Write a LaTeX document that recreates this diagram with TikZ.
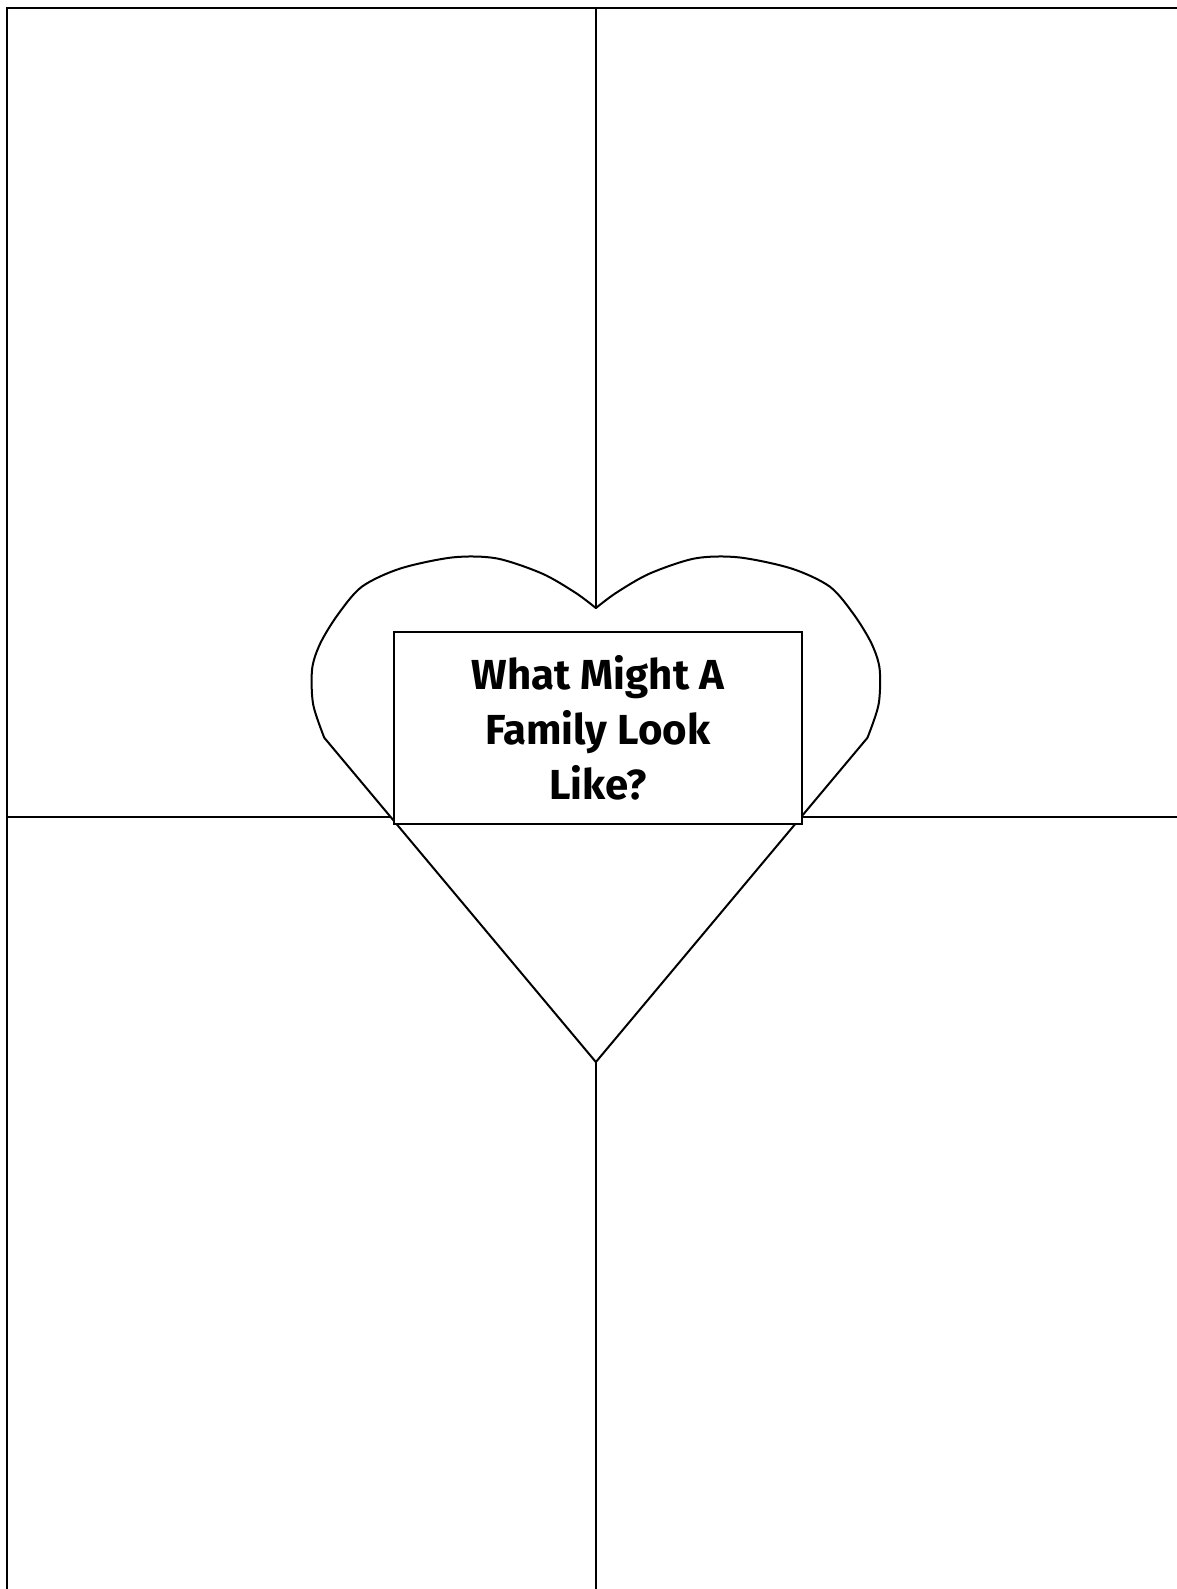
\documentclass[tikz,border=0pt]{standalone}
\usepackage{fontspec}
\setmainfont{Fira Sans}
\begin{document}
\begin{tikzpicture}[x=1.0138pt,y=-1.0138pt,
  gridline/.style={line width=2pt,black},
  heartline/.style={line width=2pt,black,fill=white,line join=round},
  titlebox/.style={draw,line width=2pt,fill=white,minimum width=407.5pt,minimum height=191.6pt,
    inner sep=0pt,align=center,font=\fontsize{42}{55}\selectfont\bfseries}]
\useasboundingbox (0,0) rectangle (1161,1568);
% grid
\coordinate (tl) at (7,8);
\coordinate (tr) at (1161,8);
\coordinate (bl) at (7,1568);
\coordinate (mt) at (588,8);
\coordinate (mb) at (588,1568);
\coordinate (hl) at (7,806);
\coordinate (hr) at (1161,806);
\draw[gridline] (tr) -- (tl) -- (bl);
\draw[gridline] (mt) -- (mb);
\draw[gridline] (hl) -- (hr);
% heart
\coordinate (notch) at (588,600);
\coordinate (tip) at (588,1048);
\draw[heartline] (tip)
  -- plot[smooth,tension=0.5] coordinates {(320,728) (309,695) (308,660) (316,635) (333,607) (357,579) (395,561) (447,550) (490,551) (535,566) (568,585) (588,600)}
  -- plot[smooth,tension=0.5] coordinates {(588,600) (608,585) (641,566) (686,551) (729,550) (781,561) (819,579) (843,607) (860,635) (868,660) (867,695) (856,728)}
  -- cycle;
% title box
\node[titlebox] (title) at (590,718.5) {What Might A\\Family Look\\Like?};
\end{tikzpicture}
\end{document}
